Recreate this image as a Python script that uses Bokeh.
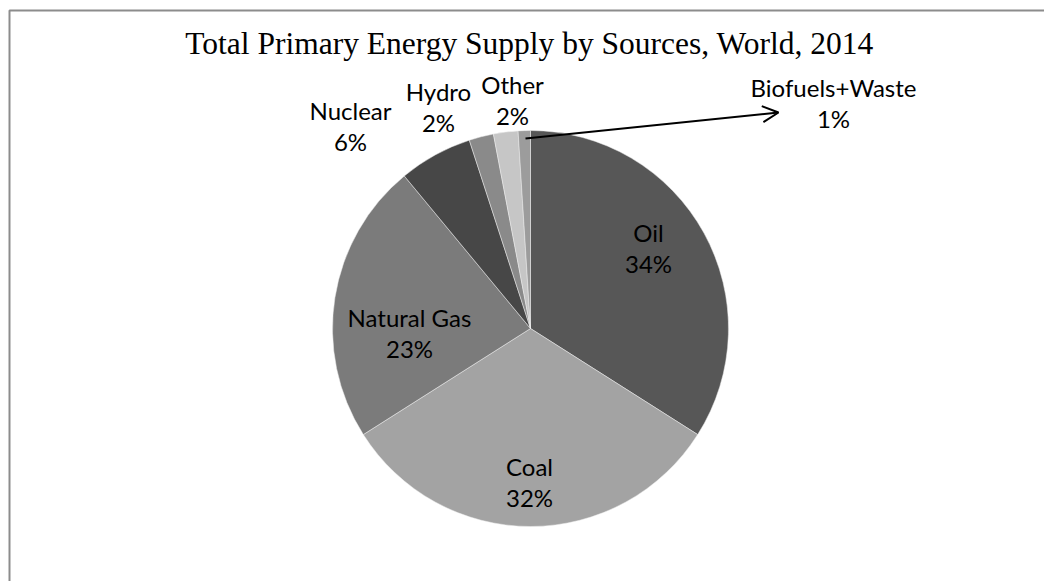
import math

from bokeh.core.properties import value
from bokeh.embed import file_html
from bokeh.models import Arrow, OpenHead, Range1d
from bokeh.plotting import figure
from bokeh.resources import INLINE

# Total primary energy supply shares, world, 2014 (percent)
sources = ["Oil", "Coal", "Natural Gas", "Nuclear", "Hydro", "Other", "Biofuels+Waste"]
shares = [34, 32, 23, 6, 2, 2, 1]
colors = ["#575757", "#a3a3a3", "#7b7b7b", "#474747", "#8a8a8a", "#c6c6c6", "#9c9c9c"]

title_text = "Total Primary Energy Supply by Sources, World, 2014"

W, H = 1044, 581
CX, CY, R = 530, H - 328, 198  # pie centre (y measured from the bottom) and radius

p = figure(width=W, height=H, output_backend="svg", toolbar_location=None,
           x_range=Range1d(0, W), y_range=Range1d(0, H),
           min_border=0, outline_line_color=None, background_fill_color="white")
p.axis.visible = False
p.grid.visible = False

# Frame around the chart area
p.line([9, 9, W + 5], [-5, H - 10, H - 10], line_color="#8c8c8c", line_width=2)

# Slices run clockwise from twelve o'clock
total = float(sum(shares))
starts, ends = [], []
cum = 0.0
for s in shares:
    a0 = math.pi / 2 - 2 * math.pi * (cum + s) / total
    a1 = math.pi / 2 - 2 * math.pi * cum / total
    starts.append(a0)
    ends.append(a1)
    cum += s

p.wedge(x=[CX] * len(shares), y=[CY] * len(shares), radius=R,
        start_angle=starts, end_angle=ends, fill_color=colors,
        line_color="#eeeeee", line_width=0.5)

# Category labels with percentages
label_font = value("Lato")
label_pos = {
    "Oil": (648, 247),
    "Coal": (529, 481),
    "Natural Gas": (409, 332),
    "Nuclear": (350, 125),
    "Hydro": (438, 106),
    "Other": (512, 99),
    "Biofuels+Waste": (833, 102),
}
for name, share in zip(sources, shares):
    lx, ly = label_pos[name]
    p.text(x=[lx], y=[H - ly + 15.5], text=[name], text_font=label_font,
           text_font_size="24px", text_color="black",
           text_align="center", text_baseline="middle")
    p.text(x=[lx], y=[H - ly - 15.5], text=[f"{share}%"], text_font=label_font,
           text_font_size="24px", text_color="black",
           text_align="center", text_baseline="middle")

# Leader arrow for the smallest slice
p.add_layout(Arrow(end=OpenHead(size=16, line_width=2, line_color="black"),
                   x_start=525, y_start=H - 138, x_end=778, y_end=H - 112,
                   line_width=2, line_color="black"))

# Title
p.text(x=[529], y=[H - 43], text=[title_text], text_font=value("Liberation Serif"),
       text_font_size="31.5px", text_color="black",
       text_align="center", text_baseline="alphabetic")

open("out.html", "w").write(file_html(p, INLINE))
